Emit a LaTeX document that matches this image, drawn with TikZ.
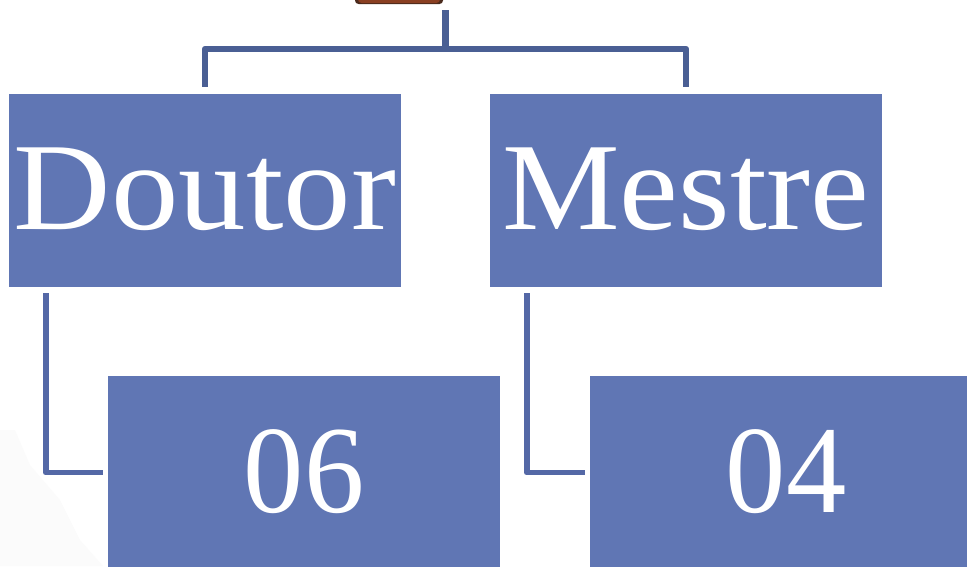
\documentclass[tikz,border=0pt]{standalone}
\usepackage{fontspec}
\setmainfont[FakeStretch=1.05]{Liberation Serif}
\definecolor{boxblue}{HTML}{6076B4}
\definecolor{linkblue}{HTML}{4A5F94}
\definecolor{linkblueb}{HTML}{5468A6}
\definecolor{photobrown}{HTML}{8A3F22}
\definecolor{photodark}{HTML}{4A2A1C}
\tikzset{
  titlebox/.style={fill=boxblue, text=white, minimum width=7.84cm, minimum height=3.86cm, inner sep=0pt, font=\fontsize{71}{71}\selectfont},
  link/.style={draw=linkblue, line width=3.6pt, line join=round},
  linkb/.style={draw=linkblueb, line width=3.4pt, line join=round}
}
\begin{document}
\begin{tikzpicture}[x=0.02cm,y=-0.02cm]
\useasboundingbox (0,0) rectangle (967,566);
% fundo
\fill[white] (0,0) rectangle (967,566);
\fill[black!1.5] (0,430) -- (15,430) -- (30,465) -- (60,500) -- (80,540) -- (103,566) -- (0,566) -- cycle;
% foto no topo
\fill[photodark, rounded corners=2pt] (355,-8) rectangle (443,4);
\fill[photobrown, rounded corners=2pt] (358,-8) rectangle (440,3);

% caixas
\node[titlebox] (doutor) at (205,190.5) {\raisebox{2pt}{\scalebox{1.03}[1]{Doutor}}};
\node[titlebox] (mestre) at (686,190.5) {\raisebox{2pt}{\scalebox{1.01}[1]{Mestre}}};
\node[titlebox] (seis) at (304,472.5) {\raisebox{1.7pt}{\scalebox{.92}[1]{06}}};
\node[titlebox] (quatro) at (786,472.5) {\raisebox{1.7pt}{\scalebox{.92}[1]{04}}};

% ligacoes
\coordinate (topo) at (445.5,10);
\coordinate (barra) at (445.5,49);
\coordinate (doutorbase) at ([xshift=.74cm,yshift=-.12cm]doutor.south west);
\coordinate (mestrebase) at ([xshift=.74cm,yshift=-.12cm]mestre.south west);
\draw[link] (topo) -- (barra);
\draw[link] ([yshift=.14cm]doutor.north) |- (barra) -| ([yshift=.14cm]mestre.north);
\draw[linkb] (doutorbase) |- ([xshift=-.1cm]seis.west);
\draw[linkb] (mestrebase) |- ([xshift=-.1cm]quatro.west);
\end{tikzpicture}
\end{document}
